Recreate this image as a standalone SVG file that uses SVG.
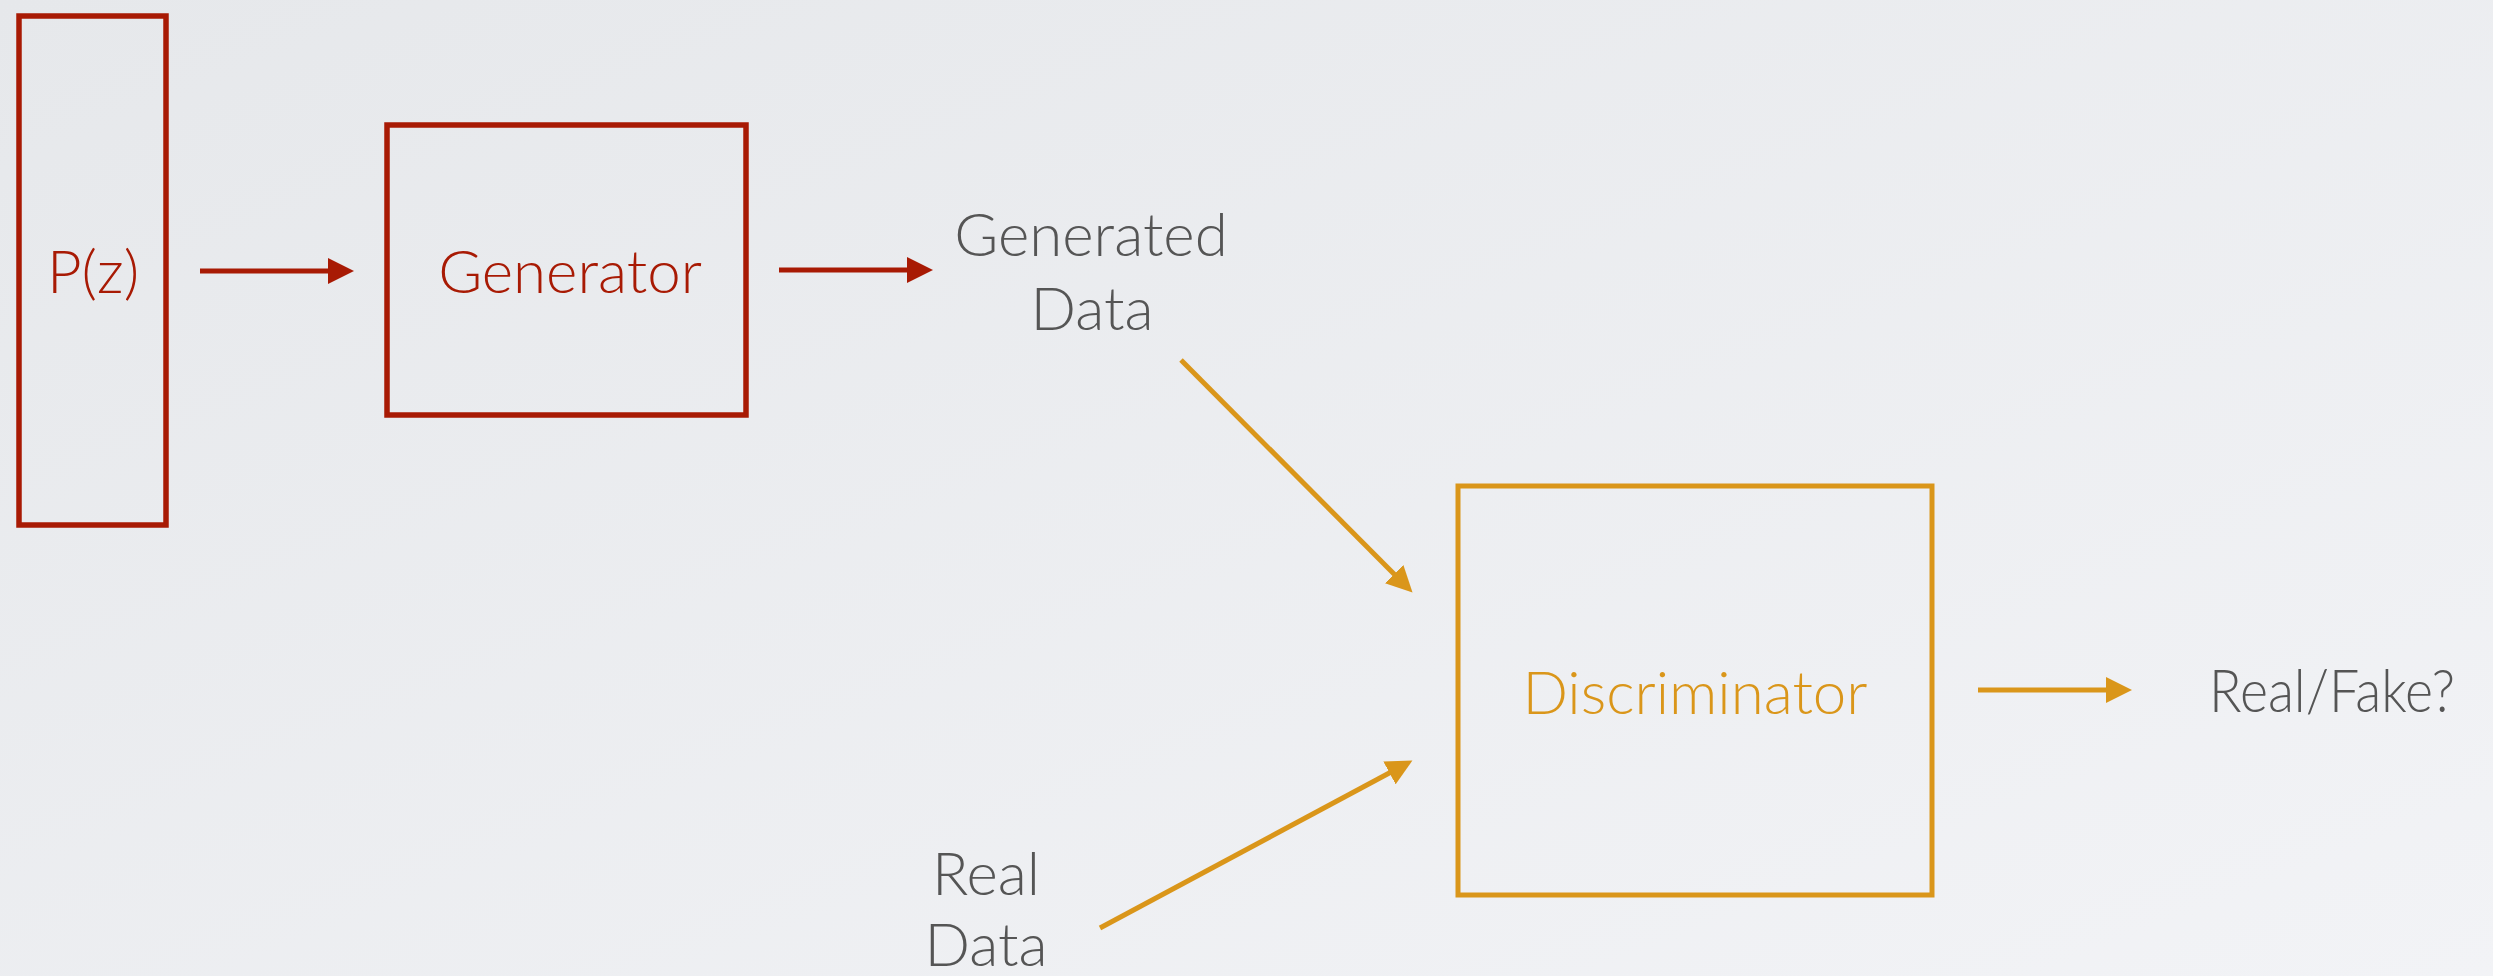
<svg xmlns="http://www.w3.org/2000/svg" width="2493" height="976" viewBox="0 0 2493 976">
<defs>
<linearGradient id="bg" x1="0" y1="0" x2="1" y2="1">
<stop offset="0" stop-color="#e6e8eb"/>
<stop offset="1" stop-color="#f2f3f6"/>
</linearGradient>
<marker id="ahRed" markerUnits="userSpaceOnUse" markerWidth="28" markerHeight="26" refX="4" refY="13" orient="auto">
<path d="M0,0 L26,13 L0,26 Z" fill="#a81a04"/>
</marker>
<marker id="ahOr" markerUnits="userSpaceOnUse" markerWidth="28" markerHeight="26" refX="4" refY="13" orient="auto">
<path d="M0,0 L26,13 L0,26 Z" fill="#da961a"/>
</marker>
</defs>
<style>
.red{fill:none;stroke:#a81a04;stroke-width:5.5}
.or{fill:none;stroke:#da961a;stroke-width:5}
.t{font-family:Lato,"Liberation Sans",sans-serif;font-weight:300;font-size:60px;text-anchor:middle}
.tr{fill:#a81a04}
.to{fill:#da961a}
.tg{fill:#555555}
.cr{stroke:#a81a04;stroke-width:5;fill:none}
.co{stroke:#da961a;stroke-width:5;fill:none}
</style>
<rect x="0" y="0" width="2493" height="976" fill="url(#bg)"/>
<g id="pz">
<rect class="red" x="19" y="16" width="147" height="509"/>
<text class="t tr" x="93" y="293">P(z)</text>
</g>
<g id="generator">
<rect class="red" x="387" y="125" width="359" height="290"/>
<text class="t tr" x="570" y="293">Generator</text>
</g>
<g id="generated-data">
<text class="t tg" x="1091" y="256">Generated</text>
<text class="t tg" x="1092" y="330">Data</text>
</g>
<g id="discriminator">
<rect class="or" x="1458" y="486" width="474" height="409"/>
<text class="t to" x="1695" y="714">Discriminator</text>
</g>
<g id="real-data">
<text class="t tg" x="986" y="895">Real</text>
<text class="t tg" x="986" y="966">Data</text>
</g>
<g id="real-fake">
<text class="t tg" x="2332" y="712" textLength="246" lengthAdjust="spacingAndGlyphs">Real/Fake?</text>
</g>
<g id="connectors">
<line class="cr" x1="200" y1="271" x2="332" y2="271" marker-end="url(#ahRed)"/>
<line class="cr" x1="779" y1="270" x2="911" y2="270" marker-end="url(#ahRed)"/>
<line class="co" x1="1181" y1="360" x2="1397" y2="577" marker-end="url(#ahOr)"/>
<line class="co" x1="1100" y1="928" x2="1393" y2="771" marker-end="url(#ahOr)"/>
<line class="co" x1="1978" y1="690" x2="2110" y2="690" marker-end="url(#ahOr)"/>
</g>
</svg>
